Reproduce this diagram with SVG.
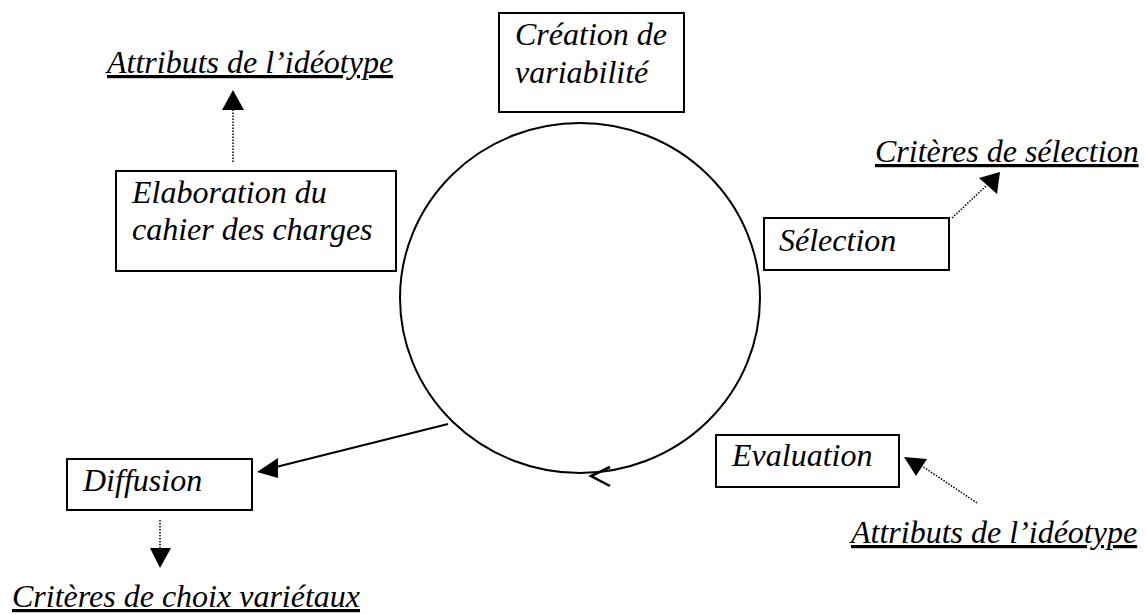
<svg xmlns="http://www.w3.org/2000/svg" width="1146" height="615" viewBox="0 0 1146 615">
<rect width="1146" height="615" fill="#fff"/>
<g id="cycle">
<ellipse cx="580" cy="298" rx="180" ry="175" fill="none" stroke="#000" stroke-width="2"/>
</g>
<g id="connectors" stroke="#000">
<g stroke-width="1.5" stroke-dasharray="1.5,1.5" fill="none">
<line x1="233" y1="162" x2="233" y2="110"/>
<line x1="952" y1="218" x2="986" y2="186"/>
<line x1="977" y1="503" x2="922" y2="466"/>
<line x1="160" y1="520" x2="160" y2="548"/>
</g>
<g fill="#000" stroke="none">
<path d="M222,110 L244,110 L233,90 Z"/>
<path d="M979,178 L997,194 L1000,172 Z"/>
<path d="M927,459 L916,476 L904,457 Z"/>
<path d="M150,548 L171,548 L160,568 Z"/>
<path d="M278,458 L278,478 L257,472 Z"/>
</g>
<line x1="448" y1="424" x2="276" y2="467" stroke-width="2"/>
<path d="M610,467 L591,476 L610,486" fill="none" stroke-width="2.5"/>
</g>
<g id="creation">
<rect x="499" y="13" width="185" height="99" fill="#fff" stroke="#000" stroke-width="2"/>
<text x="515" y="45" font-family="Liberation Serif" font-style="italic" font-size="32">Création de</text>
<text x="515" y="83" font-family="Liberation Serif" font-style="italic" font-size="32">variabilité</text>
</g>
<g id="elaboration">
<rect x="116" y="171" width="280" height="100" fill="#fff" stroke="#000" stroke-width="2"/>
<text x="132" y="203" font-family="Liberation Serif" font-style="italic" font-size="32">Elaboration du</text>
<text x="132" y="240" font-family="Liberation Serif" font-style="italic" font-size="32">cahier des charges</text>
</g>
<g id="selection">
<rect x="764" y="218" width="185" height="52" fill="#fff" stroke="#000" stroke-width="2"/>
<text x="779" y="251" font-family="Liberation Serif" font-style="italic" font-size="32">Sélection</text>
</g>
<g id="evaluation">
<rect x="716" y="435" width="183" height="52" fill="#fff" stroke="#000" stroke-width="2"/>
<text x="732" y="466" font-family="Liberation Serif" font-style="italic" font-size="32">Evaluation</text>
</g>
<g id="diffusion">
<rect x="67" y="459" width="185" height="51" fill="#fff" stroke="#000" stroke-width="2"/>
<text x="83" y="491" font-family="Liberation Serif" font-style="italic" font-size="32">Diffusion</text>
</g>
<g id="labels">
<text x="107" y="73" font-family="Liberation Serif" font-style="italic" font-size="32" text-decoration="underline">Attributs de l’idéotype</text>
<text x="875" y="162" font-family="Liberation Serif" font-style="italic" font-size="32" text-decoration="underline">Critères de sélection</text>
<text x="851" y="543" font-family="Liberation Serif" font-style="italic" font-size="32" text-decoration="underline">Attributs de l’idéotype</text>
<text x="12" y="607" font-family="Liberation Serif" font-style="italic" font-size="32" text-decoration="underline">Critères de choix variétaux</text>
</g>
</svg>
